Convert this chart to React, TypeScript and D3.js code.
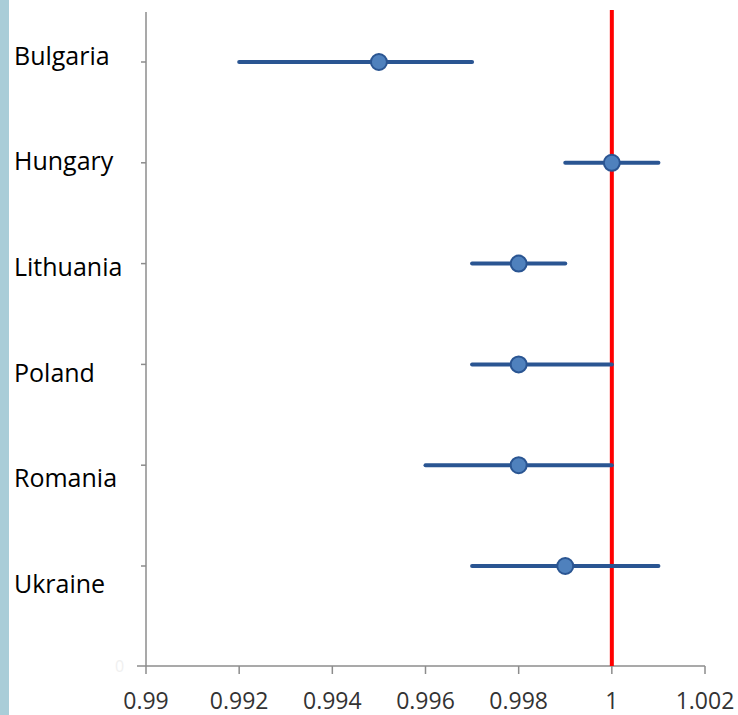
import * as d3 from 'd3';
import { useEffect, useRef } from 'react';

const countries = ['Bulgaria', 'Hungary', 'Lithuania', 'Poland', 'Romania', 'Ukraine'];
const estimates = [0.995, 1.0, 0.998, 0.998, 0.998, 0.999];
const lowerCI = [0.992, 0.999, 0.997, 0.997, 0.996, 0.997];
const upperCI = [0.997, 1.001, 0.999, 1.0, 1.0, 1.001];
const xTicks = [0.99, 0.992, 0.994, 0.996, 0.998, 1, 1.002];
const refValue = 1;

export default function App() {
  const svgRef = useRef<SVGSVGElement>(null);

  useEffect(() => {
    if (!svgRef.current) return;
    const width = 738;
    const height = 715;
    const svg = d3.select(svgRef.current);
    svg.selectAll('*').remove();
    svg.attr('width', width).attr('height', height);

    const axisColor = '#8c8c8c';
    const barColor = '#2a5592';

    // left accent strip
    svg.append('rect').attr('x', 0).attr('y', 0).attr('width', 9).attr('height', height).attr('fill', '#a9cdd8');

    const x = d3.scaleLinear().domain([0.99, 1.002]).range([146, 705]);
    const y = d3.scalePoint<string>().domain(countries).range([62, 566]);
    const yLabel = d3.scalePoint<string>().domain(countries).range([56, 584]);
    const axisY = 666;

    // y axis line
    svg.append('line')
      .attr('x1', 146).attr('x2', 146).attr('y1', 12).attr('y2', axisY)
      .attr('stroke', axisColor).attr('stroke-width', 1.5);

    // y ticks
    svg.selectAll('.ytick')
      .data(countries)
      .join('line')
      .attr('x1', 141).attr('x2', 146)
      .attr('y1', (d) => y(d) ?? 0).attr('y2', (d) => y(d) ?? 0)
      .attr('stroke', axisColor).attr('stroke-width', 1.5);

    // category labels
    svg.selectAll('.ylab')
      .data(countries)
      .join('text')
      .attr('x', 14)
      .attr('y', (d) => yLabel(d) ?? 0)
      .attr('dy', '0.35em')
      .attr('font-family', 'Open Sans, sans-serif')
      .attr('font-size', 25)
      .attr('fill', '#000')
      .text((d) => d);

    // x axis
    svg.append('line')
      .attr('x1', 137).attr('x2', 705).attr('y1', axisY).attr('y2', axisY)
      .attr('stroke', axisColor).attr('stroke-width', 1.5);

    svg.selectAll('.xtick')
      .data(xTicks)
      .join('line')
      .attr('x1', (d) => x(d)).attr('x2', (d) => x(d))
      .attr('y1', axisY).attr('y2', axisY + 8)
      .attr('stroke', axisColor).attr('stroke-width', 1.5);

    svg.selectAll('.xlab')
      .data(xTicks)
      .join('text')
      .attr('x', (d) => x(d))
      .attr('y', 709)
      .attr('text-anchor', 'middle')
      .attr('font-family', 'Open Sans, sans-serif')
      .attr('font-size', 23)
      .attr('fill', '#333')
      .text((d) => d3.format('')(+d.toFixed(3)));

    // faint zero label on y axis
    svg.append('text')
      .attr('x', 115).attr('y', 666).attr('dy', '0.35em')
      .attr('font-family', 'Open Sans, sans-serif').attr('font-size', 16)
      .attr('fill', '#f0f0f0').text('0');

    // reference line
    svg.append('line')
      .attr('x1', x(refValue)).attr('x2', x(refValue))
      .attr('y1', 10).attr('y2', axisY)
      .attr('stroke', '#ff0000').attr('stroke-width', 4);

    // error bars
    svg.selectAll('.ci')
      .data(countries)
      .join('line')
      .attr('x1', (_, i) => x(lowerCI[i]))
      .attr('x2', (_, i) => x(upperCI[i]))
      .attr('y1', (d) => y(d) ?? 0)
      .attr('y2', (d) => y(d) ?? 0)
      .attr('stroke', barColor)
      .attr('stroke-width', 4)
      .attr('stroke-linecap', 'round');

    // point estimates
    svg.selectAll('.pt')
      .data(countries)
      .join('circle')
      .attr('cx', (_, i) => x(estimates[i]))
      .attr('cy', (d) => y(d) ?? 0)
      .attr('r', 8)
      .attr('fill', '#4f81bd')
      .attr('stroke', barColor)
      .attr('stroke-width', 2);
  }, []);

  return <svg ref={svgRef} style={{ position: 'absolute', left: 0, top: 0 }} />;
}
